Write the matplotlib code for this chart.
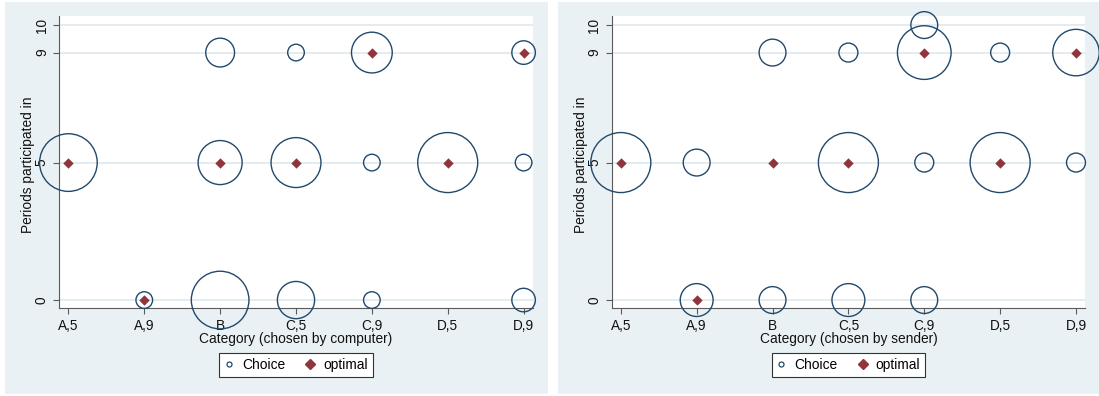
#Import the required packages
import matplotlib.pyplot as plt
from matplotlib.lines import Line2D
from matplotlib.patches import Rectangle

plt.rcParams["font.family"] = ["Liberation Sans", "DejaVu Sans"]

#Categories and period ticks
categories = ["A,5", "A,9", "B", "C,5", "C,9", "D,5", "D,9"]
period_ticks = [0, 5, 9, 10]

#Choices when the category was chosen by the computer
comp_cat = ["A,5", "B", "C,5", "C,9", "D,9", "B", "C,5", "C,9", "D,5", "D,9",
            "A,9", "B", "C,5", "C,9", "D,9"]
comp_period = [5, 9, 9, 9, 9, 5, 5, 5, 5, 5, 0, 0, 0, 0, 0]
comp_count = [12, 3, 1, 6, 2, 7, 9, 1, 13, 1, 1, 12, 5, 1, 2]

#Choices when the category was chosen by the sender
send_cat = ["A,5", "A,9", "C,5", "C,9", "D,5", "D,9", "B", "C,5", "C,9", "D,5",
            "D,9", "C,9", "A,9", "B", "C,5", "C,9"]
send_period = [5, 5, 5, 5, 5, 5, 9, 9, 9, 9, 9, 10, 0, 0, 0, 0]
send_count = [10, 2, 10, 1, 10, 1, 2, 1, 8, 1, 6, 2, 3, 2, 3, 2]

#Optimal number of periods for each category
opt_cat = ["A,5", "A,9", "B", "C,5", "C,9", "D,5", "D,9"]
opt_period = [5, 0, 5, 5, 9, 5, 9]

#Colours
bg_color = "#eaf1f4"
grid_color = "#e2ebef"
navy = "#22496c"
maroon = "#90353b"
axis_color = "#5a5a5a"

fig = plt.figure(figsize=(10.99, 3.96), dpi=100)

#Light panel backgrounds behind each graph
fig.patches.append(Rectangle((5 / 1099, 2 / 396), 543 / 1099, 392 / 396,
                             transform=fig.transFigure, facecolor=bg_color,
                             edgecolor="none", zorder=-1))
fig.patches.append(Rectangle((558 / 1099, 2 / 396), 541 / 1099, 392 / 396,
                             transform=fig.transFigure, facecolor=bg_color,
                             edgecolor="none", zorder=-1))

ax_w = 473.4 / 1099
ax_h = 292.3 / 396
ax_y = 1 - 308.3 / 396
ax1 = fig.add_axes([59.3 / 1099, ax_y, ax_w, ax_h])
ax2 = fig.add_axes([611.7 / 1099, ax_y, ax_w, ax_h])


def draw_panel(ax, cats, periods, counts, xlabel):
    x = [categories.index(c) for c in cats]
    max_area = 1866.0
    sizes = [max_area * c / max(counts) for c in counts]
    ax.scatter(x, periods, s=sizes, facecolors="none", edgecolors=navy,
               linewidths=1.0, zorder=3, clip_on=False)
    ox = [categories.index(c) for c in opt_cat]
    ax.scatter(ox, opt_period, s=28, marker="D", color=maroon,
               linewidths=0, zorder=4, clip_on=False)

    ax.set_xlim(-0.12, 6.12)
    ax.set_ylim(-0.3, 10.33)
    ax.set_facecolor("white")

    #Gridlines
    for p in period_ticks:
        ax.axhline(p, color=grid_color, lw=1.3, zorder=1)

    ax.set_xticks(range(len(categories)))
    ax.set_xticklabels(categories, fontsize=9.8)
    ax.set_yticks(period_ticks)
    ax.set_yticklabels([str(p) for p in period_ticks], fontsize=9.8,
                       rotation=90, va="center")
    ax.tick_params(axis="both", colors=axis_color, labelcolor="#111111",
                   length=4.5, width=0.8, pad=3)

    for side in ["top", "right"]:
        ax.spines[side].set_visible(False)
    for side in ["left", "bottom"]:
        ax.spines[side].set_color(axis_color)
        ax.spines[side].set_linewidth(0.8)

    ax.set_ylabel("Periods participated in", fontsize=9.9, color="#111111")
    ax.yaxis.set_label_coords(-0.051, 0.49)
    ax.set_xlabel(xlabel, fontsize=9.9, color="#111111", va="top")
    ax.xaxis.set_label_coords(0.5, -0.081)

    #Legend below the plot
    handles = [
        Line2D([], [], linestyle="none", marker="o", markersize=3.6,
               markerfacecolor="none", markeredgecolor=navy, markeredgewidth=0.9),
        Line2D([], [], linestyle="none", marker="D", markersize=5.5,
               color=maroon),
    ]
    leg = ax.legend(handles, ["Choice", "optimal"], ncol=2, loc="center",
                    bbox_to_anchor=(0.5, -0.195), fontsize=9.9,
                    frameon=True, fancybox=False, framealpha=1,
                    edgecolor="#333333", handlelength=0.7, handletextpad=0.6,
                    columnspacing=1.5, borderpad=0.35)
    leg.get_frame().set_linewidth(0.8)


#Plot the two panels
draw_panel(ax1, comp_cat, comp_period, comp_count, "Category (chosen by computer)")
draw_panel(ax2, send_cat, send_period, send_count, "Category (chosen by sender)")

#Save the figure
plt.savefig("out.png", dpi=100)
